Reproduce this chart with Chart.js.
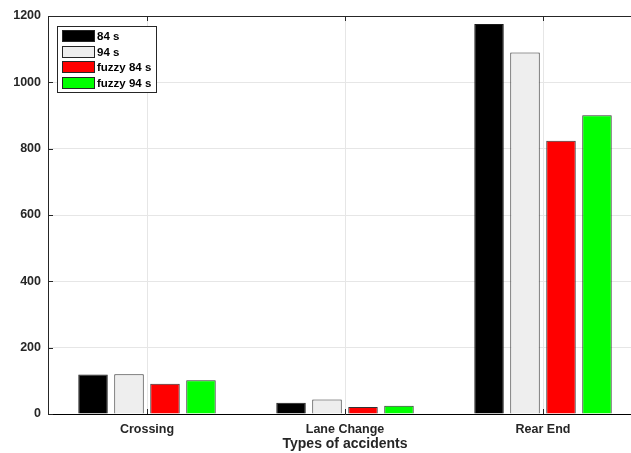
<!DOCTYPE html>
<html>
<head>
<meta charset="utf-8">
<script src="https://cdn.jsdelivr.net/npm/chart.js@4.4.1/dist/chart.umd.min.js"></script>
<style>
  html, body { margin: 0; padding: 0; background: #fff; overflow: hidden; }
  #wrap { width: 643px; height: 453px; }
</style>
</head>
<body>
<div id="wrap"><canvas id="c" width="643" height="453"></canvas></div>
<script>
// Accident counts by type, per simulation run
const categories = ['Crossing', 'Lane Change', 'Rear End'];
const seriesNames = ['84 s', '94 s', 'fuzzy 84 s', 'fuzzy 94 s'];
const values84 = [119, 34, 1176];
const values94 = [120, 44, 1090];
const valuesFuzzy84 = [91, 21, 824];
const valuesFuzzy94 = [102, 25, 901];
const yTicks = [0, 200, 400, 600, 800, 1000, 1200];

const fills = ['#000000', '#eeeeee', '#ff0000', '#00ff00'];
const edges = ['#1a1a1a', '#333333', '#333333', '#333333'];
const allValues = [values84, values94, valuesFuzzy84, valuesFuzzy94];

const FONT = '"Liberation Sans", Arial, Helvetica, sans-serif';
const TEXT = '#262626';

// Box frame, inward ticks and the inset legend
const framePlugin = {
  id: 'frame',
  afterDraw(chart) {
    const { ctx, chartArea: a, scales } = chart;
    ctx.save();
    ctx.strokeStyle = '#262626';
    ctx.lineWidth = 1;
    // top border
    ctx.beginPath();
    ctx.moveTo(a.left, a.top + 0.5);
    ctx.lineTo(a.right, a.top + 0.5);
    ctx.stroke();
    // inward ticks on left axis
    yTicks.forEach(v => {
      const y = Math.round(scales.y.getPixelForValue(v)) + 0.5;
      ctx.beginPath();
      ctx.moveTo(a.left, y);
      ctx.lineTo(a.left + 5, y);
      ctx.stroke();
    });
    // inward ticks on bottom and top at category centers
    categories.forEach((c, i) => {
      const x = Math.round(scales.x.getPixelForValue(i)) + 0.5;
      ctx.beginPath();
      ctx.moveTo(x, a.bottom);
      ctx.lineTo(x, a.bottom - 5);
      ctx.moveTo(x, a.top);
      ctx.lineTo(x, a.top + 5);
      ctx.stroke();
    });

    // legend
    const lx = 57.5, ly = 26.5, lw = 99, lh = 66;
    ctx.fillStyle = '#ffffff';
    ctx.fillRect(lx, ly, lw, lh);
    ctx.strokeStyle = '#262626';
    ctx.strokeRect(lx, ly, lw, lh);
    const rows = [36, 52, 67, 83];
    chart.data.datasets.forEach((ds, i) => {
      const cy = rows[i];
      ctx.fillStyle = ds.backgroundColor;
      ctx.fillRect(62, cy - 6, 33, 12);
      ctx.strokeStyle = '#262626';
      ctx.strokeRect(62.5, cy - 5.5, 32, 11);
      ctx.fillStyle = '#000';
      ctx.font = 'bold 11.5px ' + FONT;
      ctx.textAlign = 'left';
      ctx.textBaseline = 'middle';
      ctx.fillText(ds.label, 97, cy + 0.5);
    });
    ctx.restore();
  }
};

new Chart(document.getElementById('c'), {
  type: 'bar',
  data: {
    labels: categories,
    datasets: seriesNames.map((name, i) => ({
      label: name,
      data: allValues[i],
      backgroundColor: fills[i],
      borderColor: edges[i],
      borderWidth: 1,
      barPercentage: 0.82,
      categoryPercentage: 0.727
    }))
  },
  options: {
    responsive: false,
    animation: false,
    layout: { padding: { top: 16, right: 1, left: 0, bottom: 0 } },
    plugins: { legend: { display: false }, tooltip: { enabled: false } },
    scales: {
      x: {
        grid: { color: '#e6e6e6', offset: false, drawTicks: false },
        border: { color: '#000000', width: 1 },
        ticks: { color: TEXT, font: { family: FONT, weight: 'bold', size: 12.5 }, padding: 8 },
        title: {
          display: true, text: 'Types of accidents', color: TEXT,
          font: { family: FONT, weight: 'bold', size: 14 }, padding: { top: 2, bottom: 0 }
        },
        afterFit(s) { s.height = 39; }
      },
      y: {
        min: 0, max: 1200,
        grid: { color: '#e6e6e6', drawTicks: false },
        border: { color: '#262626', width: 1 },
        ticks: {
          stepSize: 200, color: TEXT, padding: 7,
          font: { family: FONT, weight: 'bold', size: 12.5 },
          callback: v => String(v)
        },
        afterFit(s) { s.width = 48; }
      }
    }
  },
  plugins: [framePlugin]
});
</script>
</body>
</html>
